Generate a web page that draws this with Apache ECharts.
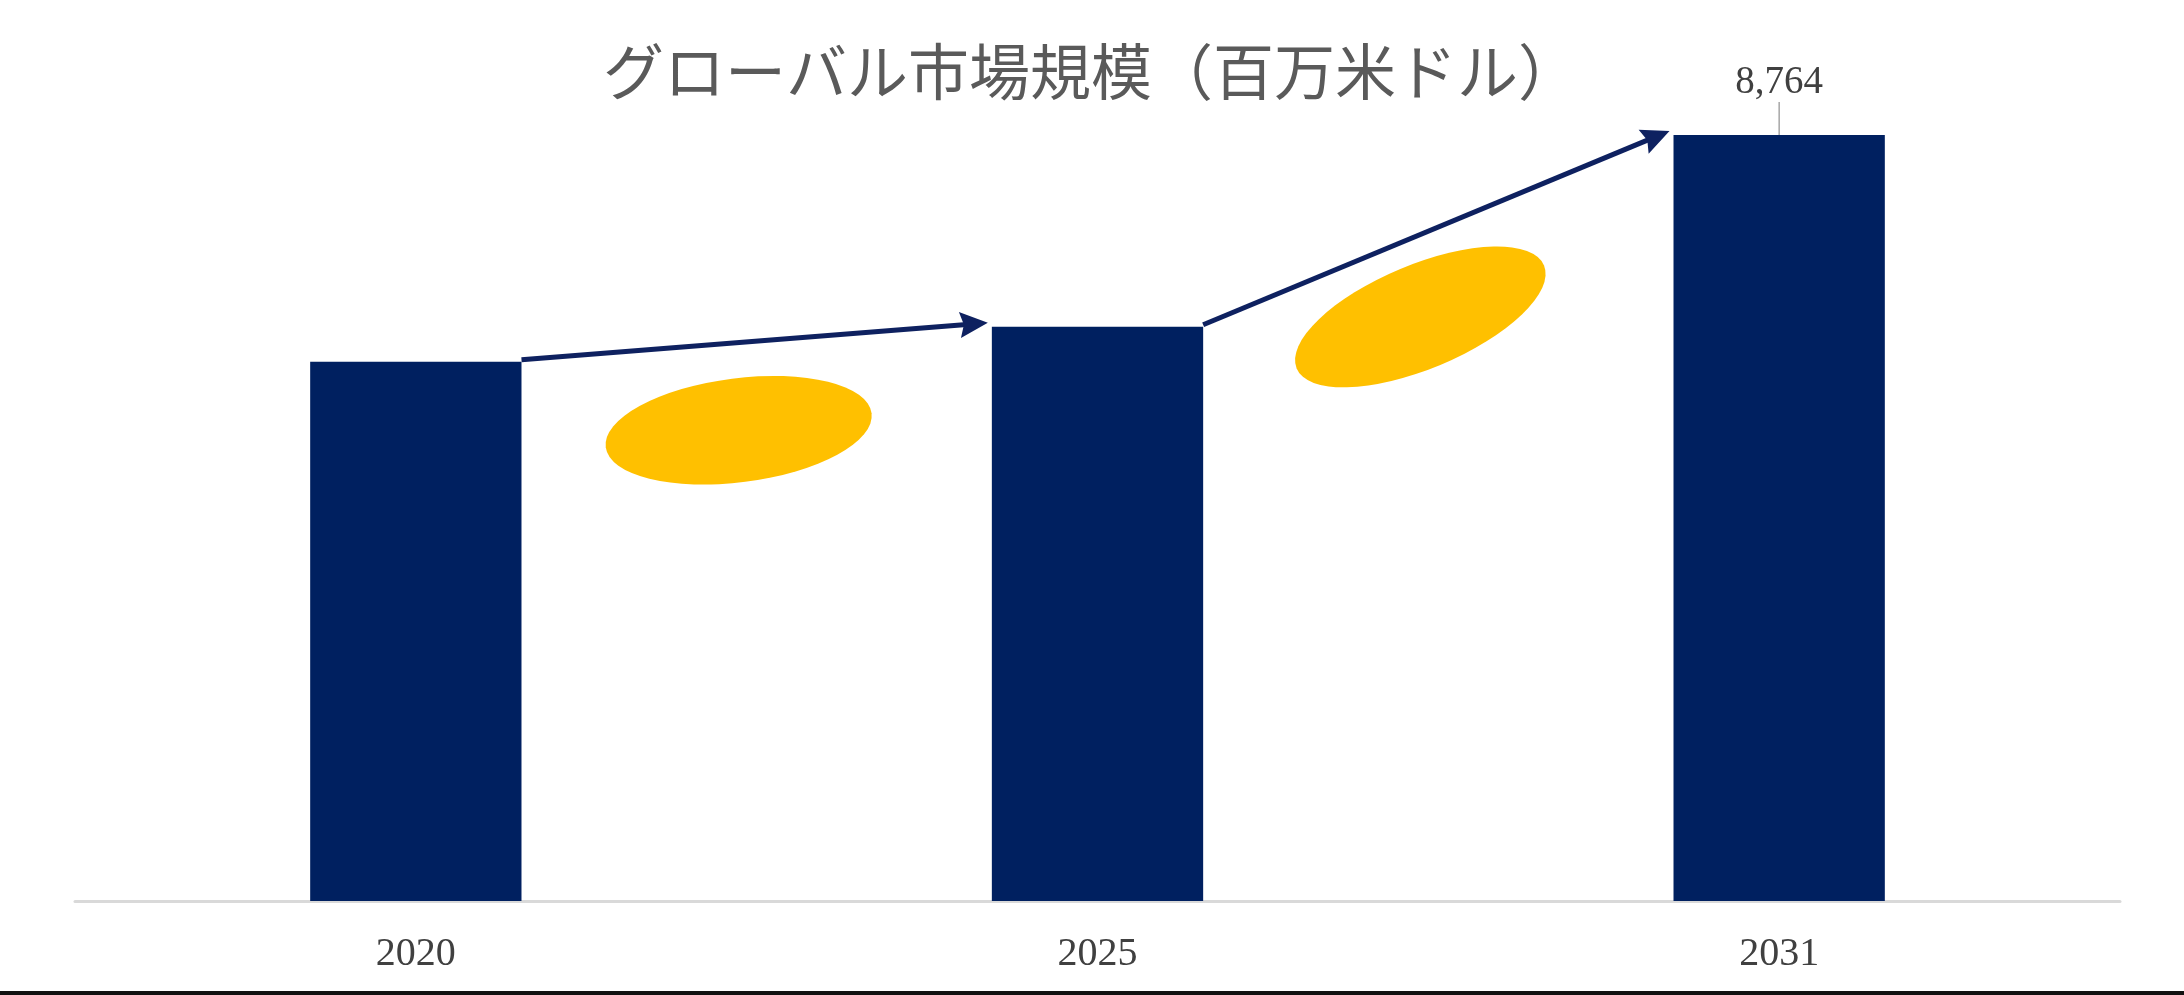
<!DOCTYPE html>
<html>
<head>
<meta charset="utf-8">
<script src="https://cdn.jsdelivr.net/npm/echarts@6/dist/echarts.min.js"></script>
<style>
  html, body { margin: 0; padding: 0; background: #fff; }
  #main { width: 2184px; height: 995px; }
</style>
</head>
<body>
<div id="main"></div>
<script>
// ---------------- データ ----------------
const years = ['2020', '2025', '2031'];
const marketSize = [6170, 6570, 8764];
const titleText = 'グローバル市場規模（百万米ドル）';

// 矢印用：隣り合う年をつなぐ [x0, y0, x1, y1]
const arrowData = marketSize.slice(0, -1).map((v, i) => [i, v, i + 1, marketSize[i + 1]]);

const barRatio = 0.31;

// ---------------- 棒グラフ＋矢印 ----------------
function marketChart() {
  let myChart = echarts.init(document.querySelector('#main'));

  let option = {
    animation: false,
    backgroundColor: '#fff',
    title: {
      text: titleText,
      left: 598,
      top: 36,
      textStyle: {
        fontFamily: 'Noto Sans CJK JP',
        fontSize: 61,
        fontWeight: 'normal',
        color: '#5a5a5a'
      }
    },
    grid: {
      left: 75,
      right: 64,
      top: 27,
      bottom: 94
    },
    xAxis: {
      type: 'category',
      data: years,
      axisLine: {
        lineStyle: { color: '#D9D9D9', width: 3 }
      },
      axisTick: { show: false },
      axisLabel: {
        margin: 33,
        fontFamily: 'Liberation Serif',
        fontSize: 40,
        color: '#404040'
      }
    },
    yAxis: {
      type: 'value',
      min: 0,
      max: 10000,
      show: false,
      splitLine: { show: false }
    },
    series: [
      {
        type: 'bar',
        barWidth: (barRatio * 100) + '%',
        itemStyle: { color: '#002060' },
        label: { show: false },
        data: marketSize.map((v, i) => i === marketSize.length - 1 ? {
          value: v,
          label: {
            show: true,
            position: 'top',
            distance: 4,
            fontFamily: 'Liberation Serif',
            fontSize: 39,
            color: '#404040',
            formatter: (p) => p.value.toLocaleString('en-US')
          },
          labelLine: {
            show: true,
            lineStyle: { color: '#A6A6A6', width: 1.5 }
          }
        } : v),
        labelLayout: { dy: -29 },
        z: 2
      },
      {
        // 矢印と黄色の楕円
        type: 'custom',
        coordinateSystem: 'cartesian2d',
        encode: { x: [0, 2], y: [1, 3] },
        data: arrowData,
        z: 3,
        renderItem: function (params, api) {
          let p0 = api.coord([api.value(0), api.value(1)]);
          let p1 = api.coord([api.value(2), api.value(3)]);
          let hw = api.size([1, 0])[0] * barRatio / 2;
          let x0 = p0[0] + hw, y0 = p0[1] - 2;
          let x1 = p1[0] - hw - 4, y1 = p1[1] - 4;
          let ang = Math.atan2(y0 - y1, x1 - x0);
          let dx = Math.cos(ang), dy = -Math.sin(ang);
          let headLen = 28, headW = 13;
          let bx = x1 - dx * headLen, by = y1 - dy * headLen;
          let mx = (x0 + x1) / 2, my = (y0 + y1) / 2;
          return {
            type: 'group',
            children: [
              {
                type: 'circle',
                x: mx - 16,
                y: my + 89,
                rotation: ang * 0.85 + 0.06,
                scaleX: 1.34,
                scaleY: 0.52,
                shape: { cx: 0, cy: 0, r: 100 },
                style: { fill: '#FFC000' }
              },
              {
                type: 'line',
                shape: { x1: x0, y1: y0, x2: bx + dx * 10, y2: by + dy * 10 },
                style: { stroke: '#0E2160', lineWidth: 5 }
              },
              {
                type: 'polygon',
                shape: {
                  points: [
                    [x1, y1],
                    [bx - dy * headW, by + dx * headW],
                    [bx + dx * 4, by + dy * 4],
                    [bx + dy * headW, by - dx * headW]
                  ]
                },
                style: { fill: '#0E2160' }
              }
            ]
          };
        }
      }
    ],
    graphic: [
      {
        type: 'rect',
        left: 0,
        bottom: 0,
        shape: { width: 2184, height: 4 },
        style: { fill: '#111' }
      }
    ]
  };
  myChart.setOption(option);
}

marketChart();
</script>
</body>
</html>
